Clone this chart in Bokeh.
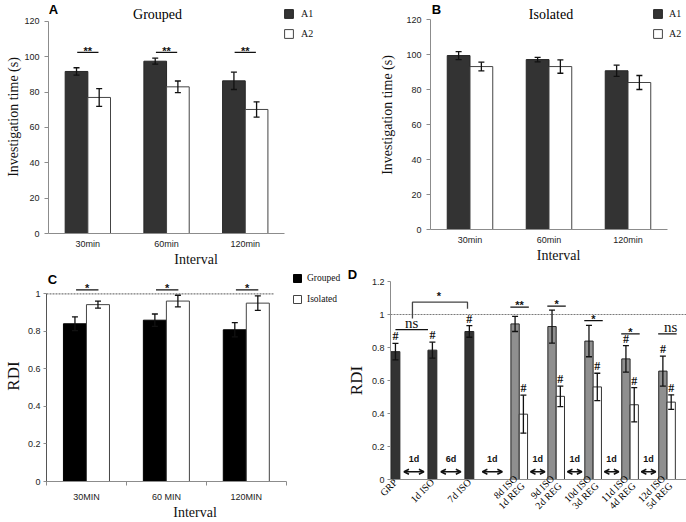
import math
from bokeh.plotting import figure
from bokeh.models import (ColumnDataSource, Range1d, Whisker, TeeHead, Legend, LegendItem,
                          Label, Arrow, OpenHead, FixedTicker)
from bokeh.layouts import row, column
from bokeh.core.properties import value
from bokeh.embed import file_html
from bokeh.resources import INLINE

SANS = "Liberation Sans"
SERIF = "Liberation Serif"
GREY = "#8c8c8c"
DARK = "#333333"
MID = "#8f8f8f"
INK = "#111111"

# ---------------- data ----------------
intervals_ab = ["30min", "60min", "120min"]
grouped_a1 = [91.7, 97.5, 86.4]
grouped_a1_err = [2.1, 1.7, 4.9]
grouped_a2 = [77.0, 83.0, 70.2]
grouped_a2_err = [5.0, 3.3, 4.3]
grouped_sig = ["**", "**", "**"]
grouped_sig_y = [102.5, 102.5, 102.5]

isolated_a1 = [99.4, 97.1, 90.7]
isolated_a1_err = [2.3, 1.3, 3.2]
isolated_a2 = [93.1, 93.1, 84.0]
isolated_a2_err = [2.5, 3.8, 4.0]

time_ticks = [0, 20, 40, 60, 80, 100, 120]

intervals_c = ["30MIN", "60 MIN", "120MIN"]
rdi_grouped = [0.841, 0.860, 0.809]
rdi_grouped_err = [0.037, 0.033, 0.038]
rdi_isolated = [0.943, 0.962, 0.951]
rdi_isolated_err = [0.019, 0.031, 0.039]
rdi_sig = ["*", "*", "*"]
rdi_sig_y = [1.022, 1.022, 1.022]

rdi_ticks_c = [0, 0.2, 0.4, 0.6, 0.8, 1]
rdi_tick_labels_c = ["0", "0.2", "0.4", "0.6", "0.8", "1"]
rdi_ticks_d = [0, 0.2, 0.4, 0.6, 0.8, 1, 1.2]
rdi_tick_labels_d = ["0", "0.2", "0.4", "0.6", "0.8", "1", "1.2"]

d_single_labels = ["GRP", "1d ISO", "7d ISO"]
d_single = [0.775, 0.784, 0.897]
d_single_err = [0.050, 0.048, 0.035]
d_single_hash = ["#", "#", "#"]

d_pair_labels = ["8d ISO\n1d REG", "9d ISO\n2d REG", "10d ISO\n3d REG",
                 "11d ISO\n4d REG", "12d ISO\n5d REG"]
d_iso = [0.943, 0.927, 0.839, 0.731, 0.657]
d_iso_err = [0.046, 0.100, 0.095, 0.080, 0.091]
d_iso_hash = ["", "", "", "#", "#"]
d_reg = [0.396, 0.504, 0.561, 0.453, 0.469]
d_reg_err = [0.115, 0.062, 0.083, 0.104, 0.044]
d_reg_hash = ["#", "#", "#", "#", "#"]
d_pair_sig = ["**", "*", "*", "*", "ns"]
d_pair_sig_y = [1.045, 1.051, 0.963, 0.882, 0.882]

d_ns_y = 0.908                                  # GRP vs 1d ISO
d_bracket_y = [0.976, 1.075, 1.075, 1.035]      # (GRP, 1d ISO) vs 7d ISO
d_bracket_sig = "*"
d_step_labels = ["1d", "6d", "1d", "1d", "1d", "1d", "1d"]
d_step_y = 0.047
d_step_text_y = 0.125


# ---------------- helpers ----------------
def base_fig(width, height, x_range, y_range, left, right, top, bottom):
    p = figure(width=width, height=height, x_range=x_range, y_range=y_range,
               output_backend="svg", toolbar_location=None,
               min_border_left=left, min_border_right=right,
               min_border_top=top, min_border_bottom=bottom)
    p.outline_line_color = None
    p.xgrid.visible = False
    p.ygrid.visible = False
    p.background_fill_color = "white"
    p.border_fill_color = "white"
    for ax in p.axis:
        ax.axis_line_color = GREY
        ax.major_tick_line_color = GREY
        ax.minor_tick_line_color = None
        ax.major_tick_in = 0
        ax.major_tick_out = 4
        ax.major_label_text_font = SANS
        ax.major_label_text_font_size = "9px"
        ax.major_label_text_color = "#222222"
        ax.axis_label_text_font = SERIF
        ax.axis_label_text_font_style = "normal"
        ax.axis_label_text_color = INK
    return p


def bars(p, x, top, err, width, fill, line="#262626"):
    src = ColumnDataSource(dict(x=x, top=top,
                                upper=[t + e for t, e in zip(top, err)],
                                lower=[t - e for t, e in zip(top, err)]))
    r = p.vbar(x="x", top="top", bottom=0, width=width, source=src,
               fill_color=fill, line_color=line, line_width=1)
    p.add_layout(Whisker(source=src, base="x", upper="upper", lower="lower",
                         level="overlay", line_color=INK, line_width=1.3,
                         upper_head=TeeHead(size=6, line_color=INK, line_width=1.3),
                         lower_head=TeeHead(size=6, line_color=INK, line_width=1.3)))
    return r


def legend(p, items, loc, glyph, font_size, spacing, standoff):
    lg = Legend(items=[LegendItem(label=l, renderers=[r]) for l, r in items],
                location=loc, glyph_width=glyph, glyph_height=glyph,
                label_text_font=SERIF, label_text_font_size=font_size,
                label_text_color=INK, label_standoff=standoff, label_height=glyph,
                label_width=20, spacing=spacing, padding=0, margin=0,
                border_line_color=None, background_fill_alpha=0)
    p.add_layout(lg)


def text_label(p, text, x, y, dx, dy, font, size, style):
    p.add_layout(Label(x=x, y=y, x_offset=dx, y_offset=dy, text=text,
                       text_font=font, text_font_size=size,
                       text_font_style=style, text_color="#000000",
                       text_align="center", text_baseline="middle"))


def time_panel(title, letter, a1, a1e, a2, a2e, height, left, px_per_unit_x,
               px_per_unit_y, label_standoff, title_dx, title_dy, letter_dx, letter_dy):
    bottom = 37
    frame_w = 343 - left
    frame_h = height - bottom
    n = len(intervals_ab)
    p = base_fig(343, height, Range1d(0, frame_w / px_per_unit_x),
                 Range1d(0, frame_h / px_per_unit_y), left, 0, 0, bottom)
    xc = [i + 0.5 for i in range(n)]
    r1 = bars(p, [x - 0.144 for x in xc], a1, a1e, 0.288, DARK)
    r2 = bars(p, [x + 0.144 for x in xc], a2, a2e, 0.288, "white", "#444444")
    p.xaxis.bounds = (0, n)
    p.yaxis.bounds = (time_ticks[0], time_ticks[-1])
    p.xaxis.ticker = FixedTicker(ticks=xc)
    p.xaxis.major_label_overrides = dict(zip(xc, intervals_ab))
    p.xaxis.major_tick_line_color = None
    p.xaxis.major_tick_out = 0
    p.xaxis.major_label_standoff = 5
    p.xaxis.axis_label = "Interval"
    p.xaxis.axis_label_standoff = 0
    p.xaxis.axis_label_text_font_size = "14px"
    p.yaxis.ticker = FixedTicker(ticks=time_ticks)
    p.yaxis.major_label_standoff = 5
    p.yaxis.axis_label = "Investigation time (s)"
    p.yaxis.axis_label_text_font_size = "14px"
    p.yaxis.axis_label_standoff = label_standoff
    text_label(p, title, n / 2, time_ticks[-1], title_dx, title_dy, SERIF, "14px", "normal")
    text_label(p, letter, 0, time_ticks[-1], letter_dx, letter_dy, SANS, "13px", "bold")
    return p, xc, r1, r2


# ---------------- panel A ----------------
pA, xA, rA1, rA2 = time_panel("Grouped", "A", grouped_a1, grouped_a1_err,
                              grouped_a2, grouped_a2_err, 270, 48, 78.7, 1.767,
                              0, -9, 7, 5, 12)
pA.segment(x0=[x - 0.135 for x in xA], x1=[x + 0.135 for x in xA],
           y0=grouped_sig_y, y1=grouped_sig_y, line_color=INK, line_width=1.2)
pA.text(x=xA, y=grouped_sig_y, text=grouped_sig, text_align="center",
        text_baseline="middle", y_offset=-1, text_font=value(SANS),
        text_font_size="11px", text_font_style="bold", text_color=INK)
legend(pA, [("A1", rA1), ("A2", rA2)], (235, 194), 11, "10px", 9, 7)

# ---------------- panel B ----------------
pB, xB, rB1, rB2 = time_panel("Isolated", "B", isolated_a1, isolated_a1_err,
                              isolated_a2, isolated_a2_err, 266, 87, 79.0, 1.75,
                              8, 2, 5, 6, 10)
legend(pB, [("A1", rB1), ("A2", rB2)], (222, 190), 11, "10px", 9, 6)

# ---------------- panel C ----------------
c_left, c_bottom, c_height = 42, 36, 252
c_fw = 343 - c_left
c_fh = c_height - c_bottom
pC = base_fig(343, c_height, Range1d(0, c_fw / 81.0), Range1d(0, c_fh / 192.0),
              c_left, 0, 0, c_bottom)
xC = [i + 0.5 for i in range(len(intervals_c))]
rCg = bars(pC, [x - 0.144 for x in xC], rdi_grouped, rdi_grouped_err, 0.288, "#000000", "#000000")
rCi = bars(pC, [x + 0.144 for x in xC], rdi_isolated, rdi_isolated_err, 0.288, "white", "#444444")
pC.segment(x0=[0], x1=[len(intervals_c) - 0.16], y0=[1], y1=[1], line_color="#7a7a7a",
           line_dash="2 1", line_width=1.2)
pC.segment(x0=[x - 0.13 for x in xC], x1=[x + 0.15 for x in xC],
           y0=rdi_sig_y, y1=rdi_sig_y, line_color=INK, line_width=1.2)
pC.text(x=[x + 0.01 for x in xC], y=rdi_sig_y, text=rdi_sig, text_align="center",
        text_baseline="middle", y_offset=-2, text_font=value(SANS),
        text_font_size="11px", text_font_style="bold", text_color=INK)
pC.xaxis.bounds = (0, len(intervals_c))
pC.xaxis.ticker = FixedTicker(ticks=xC, minor_ticks=list(range(len(intervals_c) + 1)))
pC.xaxis.major_label_overrides = dict(zip(xC, intervals_c))
pC.xaxis.major_tick_line_color = None
pC.xaxis.major_tick_out = 0
pC.xaxis.minor_tick_line_color = GREY
pC.xaxis.minor_tick_out = 4
pC.xaxis.minor_tick_in = 0
pC.xaxis.major_label_standoff = 6
pC.xaxis.axis_label = "Interval"
pC.xaxis.axis_label_standoff = 0
pC.xaxis.axis_label_text_font_size = "14px"
pC.yaxis.bounds = (0, 1)
pC.yaxis.axis_line_color = "#555555"
pC.yaxis.ticker = FixedTicker(ticks=rdi_ticks_c)
pC.yaxis.major_label_overrides = dict(zip(rdi_ticks_c, rdi_tick_labels_c))
pC.yaxis.major_label_standoff = 3
pC.yaxis.major_tick_out = 3
pC.yaxis.axis_label = "RDI"
pC.yaxis.axis_label_text_font_size = "17px"
pC.yaxis.axis_label_standoff = 2
legend(pC, [("Grouped", rCg), ("Isolated", rCi)], (246, 177), 10, "9.5px", 11, 5)
text_label(pC, "C", 0, 1, 6, 14, SANS, "13px", "bold")

# ---------------- panel D ----------------
gap = 0.35
x_single = [float(i) for i in range(len(d_single_labels))]
x_pair = [len(d_single_labels) + gap + i for i in range(len(d_pair_labels))]
w_single = 0.24
w_pair = 0.225
d_left, d_px = 45, 37.2
d_x0 = -0.134
d_x1 = d_x0 + (343 - d_left) / d_px

pD = base_fig(343, 256, Range1d(d_x0, d_x1),
              Range1d(rdi_ticks_d[0], rdi_ticks_d[-1]), d_left, 0, 0, 41)
pD.add_layout(Label(x=-38, y=0, x_units="screen", y_units="screen", text="D",
                    text_font=SANS, text_font_size="13px", text_font_style="bold",
                    text_color="#000000", text_align="center", text_baseline="bottom"),
              "above")

bars(pD, x_single, d_single, d_single_err, w_single, DARK)
x_iso = [x - w_pair / 2 for x in x_pair]
x_reg = [x + w_pair / 2 for x in x_pair]
bars(pD, x_iso, d_iso, d_iso_err, w_pair, MID)
bars(pD, x_reg, d_reg, d_reg_err, w_pair, "white", "#333333")
pD.segment(x0=[d_x0], x1=[d_x1], y0=[1], y1=[1],
           line_color="#7a7a7a", line_dash="2 1", line_width=1.2)

# '#' marks above error bars
hx = x_single + x_iso + x_reg
hy = ([t + e for t, e in zip(d_single, d_single_err)] +
      [t + e for t, e in zip(d_iso, d_iso_err)] +
      [t + e for t, e in zip(d_reg, d_reg_err)])
ht = d_single_hash + d_iso_hash + d_reg_hash
pD.text(x=hx, y=hy, text=ht, text_align="center", text_baseline="middle",
        y_offset=-7, text_font=value(SERIF), text_font_size="12px",
        text_font_style="bold", text_color=INK)

# ns between GRP and 1d ISO
ns_x1 = x_single[1] - w_single / 2
pD.segment(x0=[x_single[0]], x1=[ns_x1], y0=[d_ns_y], y1=[d_ns_y],
           line_color=INK, line_width=1.2)
ns_mid = (x_single[0] + ns_x1) / 2
pD.text(x=[ns_mid], y=[d_ns_y], text=["ns"], text_align="center",
        text_baseline="middle", y_offset=-7, text_font=value(SERIF),
        text_font_size="15px", text_color=INK)
# bracket to 7d ISO
br_right = x_single[2] - 0.05
pD.line(x=[ns_mid + 0.02, ns_mid + 0.02, br_right, br_right], y=d_bracket_y,
        line_color="#444444", line_width=1.3)
pD.text(x=[(ns_mid + br_right) / 2 - 0.02], y=[d_bracket_y[1]], text=[d_bracket_sig],
        text_align="center", text_baseline="middle", y_offset=-6,
        text_font=value(SANS), text_font_size="11px", text_font_style="bold",
        text_color=INK)

# significance over paired bars
pD.segment(x0=[x - 0.24 for x in x_pair], x1=[x + 0.26 for x in x_pair],
           y0=d_pair_sig_y, y1=d_pair_sig_y, line_color=INK, line_width=1.2)
sig_sans = [s if s != "ns" else "" for s in d_pair_sig]
sig_ns = [s if s == "ns" else "" for s in d_pair_sig]
pD.text(x=[x + 0.01 for x in x_pair], y=d_pair_sig_y, text=sig_sans, text_align="center",
        text_baseline="middle", y_offset=-2, text_font=value(SANS),
        text_font_size="11px", text_font_style="bold", text_color=INK)
pD.text(x=[x + 0.1 for x in x_pair], y=d_pair_sig_y, text=sig_ns, text_align="center",
        text_baseline="middle", y_offset=-7, text_font=value(SERIF),
        text_font_size="15px", text_color=INK)

# time-step arrows between bars
all_x = x_single + x_pair
right_edge = [x + w_single / 2 for x in x_single] + [x + w_pair for x in x_pair]
left_edge = [x - w_single / 2 for x in x_single] + [x - w_pair for x in x_pair]
ax0, ax1, amid = [], [], []
for i in range(len(all_x) - 1):
    mid = (right_edge[i] + left_edge[i + 1]) / 2
    half = min((left_edge[i + 1] - right_edge[i]) / 2 - 0.08, 0.27)
    ax0.append(mid - half)
    ax1.append(mid + half)
    amid.append(mid)
asrc = ColumnDataSource(dict(x0=ax0, x1=ax1, y=[d_step_y] * len(ax0)))
pD.add_layout(Arrow(x_start="x0", x_end="x1", y_start="y", y_end="y", source=asrc,
                    line_color=INK, line_width=1.5,
                    start=OpenHead(size=5, line_color=INK, line_width=1.5),
                    end=OpenHead(size=5, line_color=INK, line_width=1.5)))
pD.text(x=amid, y=[d_step_text_y] * len(amid), text=d_step_labels, text_align="center",
        text_baseline="middle", text_font=value(SANS), text_font_size="9px",
        text_font_style="bold", text_color=INK)

pD.xaxis.ticker = FixedTicker(ticks=all_x)
pD.xaxis.major_label_overrides = dict(zip(all_x, d_single_labels + d_pair_labels))
pD.xaxis.major_tick_line_color = None
pD.xaxis.major_tick_out = 0
pD.xaxis.major_label_orientation = math.pi / 4
pD.xaxis.major_label_standoff = 1
pD.xaxis.major_label_text_font = SERIF
pD.xaxis.major_label_text_font_size = "10px"
pD.xaxis.major_label_text_line_height = 0.95
pD.xaxis.major_label_text_color = "#000000"
pD.yaxis.ticker = FixedTicker(ticks=rdi_ticks_d)
pD.yaxis.major_label_overrides = dict(zip(rdi_ticks_d, rdi_tick_labels_d))
pD.yaxis.major_label_standoff = 3
pD.yaxis.major_tick_out = 3
pD.yaxis.axis_label = "RDI"
pD.yaxis.axis_label_text_font_size = "17px"
pD.yaxis.axis_label_standoff = 3

layout = row(column(row(pA), row(pC)), column(row(pB), row(pD)))
open("out.html", "w").write(file_html(layout, INLINE))
